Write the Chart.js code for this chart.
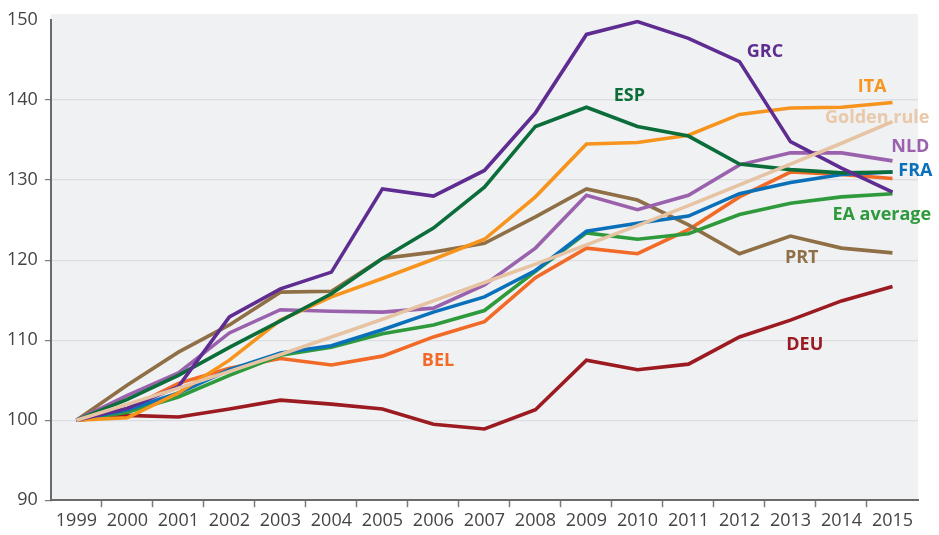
<!DOCTYPE html>
<html lang="en">
<head>
    <meta charset="UTF-8">
    <title>Index, 1999 = 100</title>
    <style>
        body {
            margin: 0;
            padding: 0;
            background-color: #ffffff;
        }

        #wrap {
            width: 939px;
            height: 535px;
        }
    </style>
    <script src="https://cdn.jsdelivr.net/npm/chart.js"></script>
</head>
<body>
    <div id="wrap">
        <canvas id="lineChart" width="939" height="535"></canvas>
    </div>

    <script>
        // years on the x axis
        const years = ["1999", "2000", "2001", "2002", "2003", "2004", "2005", "2006", "2007",
                       "2008", "2009", "2010", "2011", "2012", "2013", "2014", "2015"];

        // y axis ticks
        const yTicks = [90, 100, 110, 120, 130, 140, 150];

        // series values (1999 = 100)
        const grc = [100, 101.5, 104.2, 112.9, 116.4, 118.5, 128.9, 128.0, 131.2, 138.4, 148.2, 149.8, 147.7, 144.8, 134.8, 131.5, 128.5];
        const esp = [100, 102.6, 105.6, 109.1, 112.4, 115.8, 120.2, 124.0, 129.1, 136.7, 139.1, 136.7, 135.5, 132.0, 131.3, 130.9, 131.0];
        const ita = [100, 100.3, 103.4, 107.5, 112.5, 115.4, 117.7, 120.1, 122.6, 127.9, 134.5, 134.7, 135.6, 138.2, 139.0, 139.1, 139.7];
        const golden = [100, 102.0, 104.0, 106.1, 108.2, 110.4, 112.6, 114.9, 117.2, 119.5, 121.9, 124.3, 126.8, 129.4, 132.0, 134.6, 137.3];
        const nld = [100, 103.1, 105.9, 110.9, 113.8, 113.6, 113.5, 114.0, 116.9, 121.5, 128.1, 126.3, 128.1, 131.9, 133.4, 133.4, 132.4];
        const fra = [100, 101.3, 103.4, 106.3, 108.4, 109.3, 111.3, 113.5, 115.4, 118.7, 123.6, 124.6, 125.5, 128.3, 129.7, 130.7, 131.0];
        const eaAverage = [100, 101.0, 102.9, 105.6, 108.1, 109.1, 110.8, 111.9, 113.7, 118.6, 123.4, 122.6, 123.3, 125.7, 127.1, 127.9, 128.3];
        const prt = [100, 104.4, 108.5, 111.9, 116.0, 116.1, 120.2, 121.0, 122.1, 125.4, 128.9, 127.5, 124.4, 120.8, 123.0, 121.5, 120.9];
        const bel = [100, 101.4, 104.6, 106.5, 107.7, 106.9, 108.0, 110.4, 112.3, 117.8, 121.5, 120.8, 123.8, 127.9, 131.0, 130.7, 130.2];
        const deu = [100, 100.6, 100.4, 101.4, 102.5, 102.0, 101.4, 99.5, 98.9, 101.3, 107.5, 106.3, 107.0, 110.4, 112.5, 114.9, 116.7];

        // series names and colours
        const seriesNames = ["Golden rule", "GRC", "ESP", "ITA", "NLD", "FRA", "EA average", "PRT", "BEL", "DEU"];
        const seriesValues = [golden, grc, esp, ita, nld, fra, eaAverage, prt, bel, deu];
        const seriesColors = ["#e6c4a3", "#5f2c91", "#0b6d3a", "#f7941d", "#9a62ad", "#0a70ba", "#2f9a3c", "#8f6f46", "#f26a27", "#9b1b21"];

        // direct labels: [text, year index, value, colour]
        const labelNames = ["GRC", "ESP", "ITA", "Golden rule", "NLD", "FRA", "EA average", "PRT", "BEL", "DEU"];
        const labelYearPos = [13.5, 10.84, 15.6, 15.7, 16.35, 16.45, 15.79, 14.22, 7.09, 14.28];
        const labelValuePos = [146, 140.5, 141.6, 137.75, 134.1, 131.1, 125.6, 120.25, 107.4, 109.4];
        const labelColors = ["#5f2c91", "#0b6d3a", "#f7941d", "#e8c9aa", "#9a62ad", "#0a70ba", "#2f9a3c", "#8f6f46", "#f26a27", "#9b1b21"];

        // gris de fond sous la zone du graphique
        const plotBackground = {
            id: "plotBackground",
            beforeDraw(chart) {
                const { ctx, chartArea } = chart;
                ctx.save();
                ctx.fillStyle = "#f0f1f3";
                ctx.fillRect(chartArea.left, chartArea.top - 6, chartArea.right - chartArea.left, chartArea.bottom - chartArea.top + 6);
                ctx.restore();
            }
        };

        // noms des séries posés sur le graphique
        const directLabels = {
            id: "directLabels",
            afterDatasetsDraw(chart) {
                const { ctx, scales } = chart;
                ctx.save();
                ctx.font = "bold 18px 'Open Sans', sans-serif";
                ctx.textAlign = "center";
                ctx.textBaseline = "middle";
                for (let i = 0; i < labelNames.length; i++) {
                    ctx.fillStyle = labelColors[i];
                    ctx.fillText(labelNames[i], scales.x.getPixelForValue(labelYearPos[i]), scales.y.getPixelForValue(labelValuePos[i]));
                }
                ctx.restore();
            }
        };

        const ctx = document.getElementById("lineChart").getContext("2d");
        new Chart(ctx, {
            type: "line",
            data: {
                labels: years,
                datasets: seriesNames.map((name, i) => ({
                    label: name,
                    data: seriesValues[i],
                    borderColor: seriesColors[i],
                    borderWidth: 3.6,
                    pointRadius: 0,
                    tension: 0,
                    fill: false,
                })),
            },
            options: {
                responsive: false,
                animation: false,
                layout: {
                    padding: { top: 20, right: 21, bottom: 0, left: 0 },
                },
                plugins: {
                    legend: { display: false },
                    tooltip: { enabled: false },
                },
                scales: {
                    x: {
                        offset: true,
                        grid: {
                            offset: true,
                            drawOnChartArea: false,
                            tickLength: 7,
                            tickWidth: 1.5,
                            tickColor: (c) => (c.type === "tick" && c.index > 0 ? "#7a7a7a" : "transparent"),
                        },
                        border: { color: "#6a6a6a", width: 2 },
                        ticks: {
                            color: "#444444",
                            padding: 4,
                            maxRotation: 0,
                            autoSkip: false,
                            font: { family: "'Open Sans', sans-serif", size: 18, lineHeight: 1.1 },
                        },
                    },
                    y: {
                        min: yTicks[0],
                        max: yTicks[yTicks.length - 1],
                        afterBuildTicks: (axis) => {
                            axis.ticks = yTicks.map((v) => ({ value: v }));
                        },
                        grid: {
                            color: (c) => (c.tick && (c.tick.value === 150 || c.tick.value === 90) ? "transparent" : "#dcdde1"),
                            lineWidth: 1.2,
                            tickLength: 6,
                            tickColor: (c) => (c.tick && c.tick.value === 150 ? "transparent" : "#7a7a7a"),
                        },
                        border: { color: "#6a6a6a", width: 2 },
                        ticks: {
                            color: "#444444",
                            padding: 7,
                            font: { family: "'Open Sans', sans-serif", size: 18 },
                        },
                    },
                },
            },
            plugins: [plotBackground, directLabels],
        });
    </script>
</body>
</html>
